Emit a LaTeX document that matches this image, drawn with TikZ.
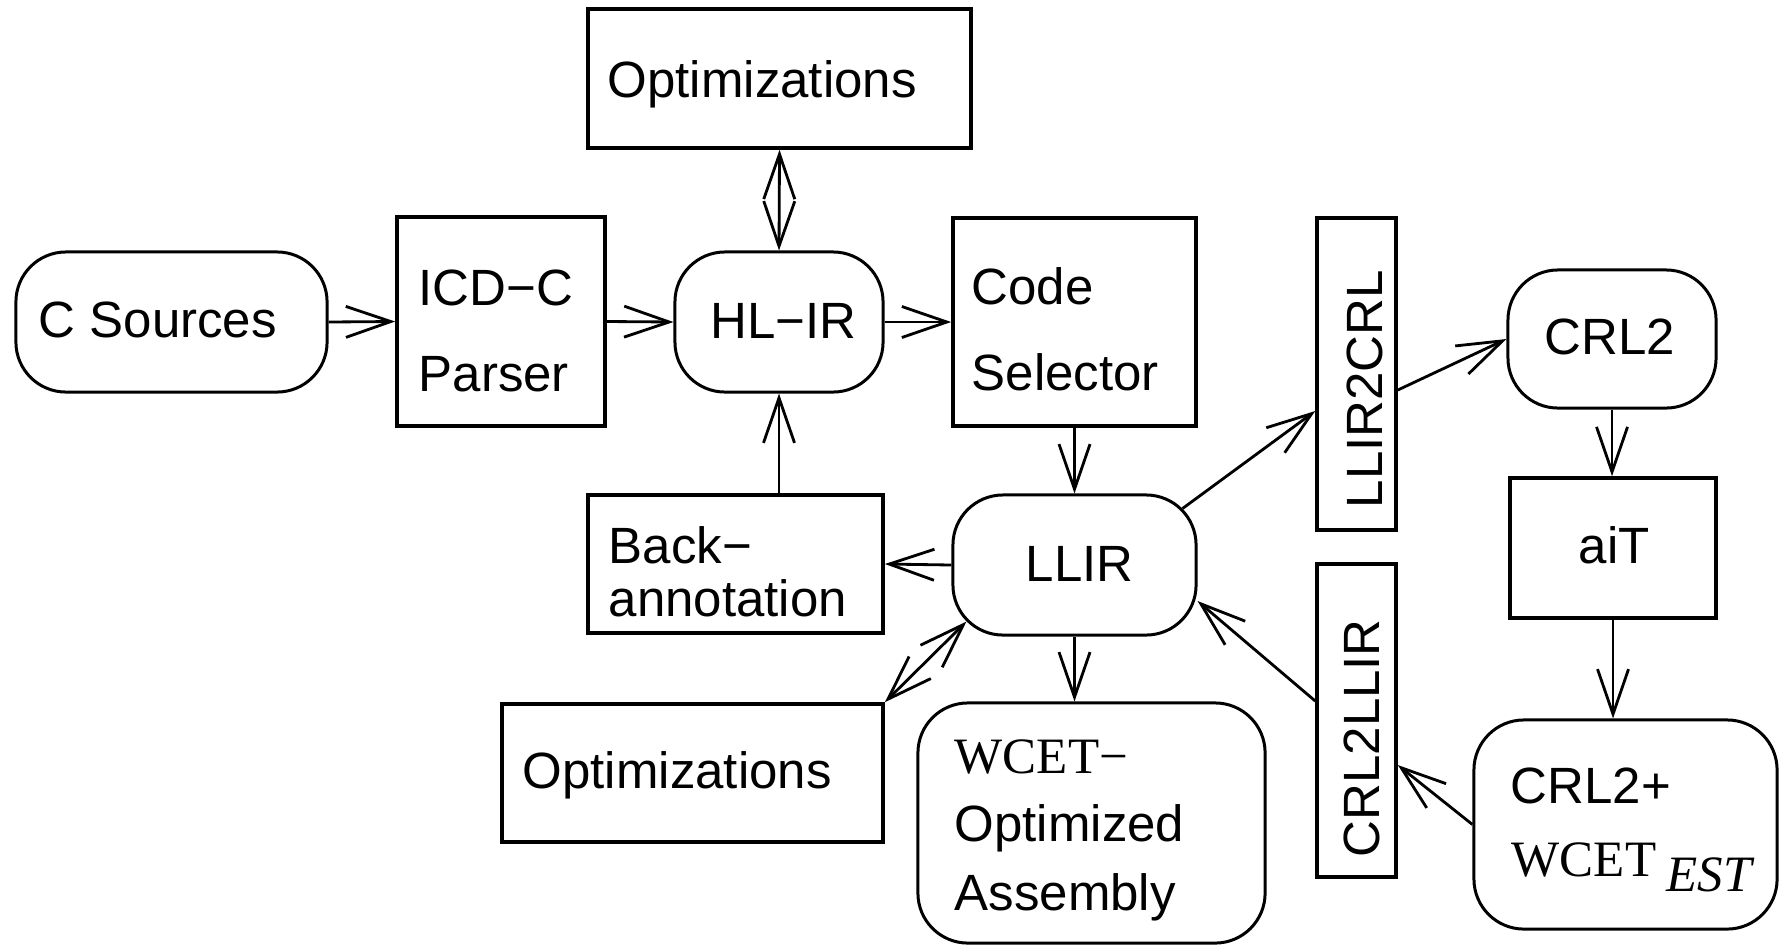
\documentclass[tikz,border=0pt]{standalone}
\usepackage{fontspec}
\setmainfont{Liberation Sans}
\newfontfamily\timesfont{Liberation Serif}
\usetikzlibrary{arrows.meta}

\begin{document}
\begin{tikzpicture}[
  x=0.01cm, y=-0.01cm,
  box/.style={draw, line width=1pt, rectangle, inner sep=0pt},
  rbox/.style={draw, line width=0.85pt, rectangle, rounded corners=0.5cm, inner sep=0pt},
  lbl/.style={inner sep=0pt, anchor=base west, font=\fontsize{14.5}{17}\selectfont},
  serif/.style={font=\fontsize{14.5}{17}\selectfont\timesfont},
  barb/.tip={Straight Barb[length=0.45cm, width=0.31cm, line width=0.8pt]},
  arr/.style={line width=0.8pt, -barb},
  biarr/.style={line width=0.8pt, barb-barb},
]
\useasboundingbox (0,0) rectangle (1780,945);

% ---- boxes ----
\node[box,  minimum width=3.83cm, minimum height=1.39cm] (opt1)  at (779.5,78.5) {};
\node[rbox, minimum width=3.11cm, minimum height=1.40cm] (csrc)  at (171.5,322) {};
\node[box,  minimum width=2.08cm, minimum height=2.09cm] (icd)   at (501,321.5) {};
\node[rbox, minimum width=2.08cm, minimum height=1.40cm] (hlir)  at (779,322) {};
\node[box,  minimum width=2.43cm, minimum height=2.08cm] (code)  at (1074.5,322) {};
\node[box,  minimum width=2.95cm, minimum height=1.38cm] (back)  at (735.5,564) {};
\node[rbox, minimum width=2.43cm, minimum height=1.40cm] (llir)  at (1074.5,565) {};
\node[box,  minimum width=3.81cm, minimum height=1.38cm] (opt2)  at (692.5,773) {};
\node[rbox, minimum width=3.47cm, minimum height=2.40cm] (wcet)  at (1091.5,823) {};
\node[box,  minimum width=0.79cm, minimum height=3.12cm] (l2c)   at (1356.5,374) {};
\node[box,  minimum width=0.79cm, minimum height=3.13cm] (c2l)   at (1356.5,720.5) {};
\node[rbox, minimum width=2.08cm, minimum height=1.38cm] (crl2)  at (1612,339) {};
\node[box,  minimum width=2.06cm, minimum height=1.40cm] (ait)   at (1613,548) {};
\node[rbox, minimum width=3.03cm, minimum height=2.09cm] (crlw)  at (1625.5,824.5) {};

% ---- labels ----
\node[lbl] (opt1t)  at (607,97)   {Optimizations};
\node[lbl] (csrct)  at (38,337)   {C Sources};
\node[lbl] (icdt1)  at (418,305)  {ICD−C};
\node[lbl] (icdt2)  at (418,391)  {Parser};
\node[lbl] (hlirt)  at (710,338)  {HL−IR};
\node[lbl] (codet1) at (971,304)  {Code};
\node[lbl] (codet2) at (971,390)  {Selector};
\node[lbl] (backt1) at (608,563)  {Back−};
\node[lbl] (backt2) at (608,616)  {annotation};
\node[lbl] (llirt)  at (1025,581) {LLIR};
\node[lbl] (opt2t)  at (522,788)  {Optimizations};
\node[lbl, serif] (wcett1) at (954,773) {WCET−};
\node[lbl] (wcett2) at (954,841)  {Optimized};
\node[lbl] (wcett3) at (954,910)  {Assembly};
\node[lbl, rotate=90] (l2ct) at (1382,509) {LLIR2CRL};
\node[lbl, rotate=90] (c2lt) at (1379,858) {CRL2LLIR};
\node[lbl] (crl2t)  at (1544,354) {CRL2};
\node[lbl] (aitt)   at (1578,563) {aiT};
\node[lbl] (crlwt1) at (1510,803) {CRL2+};
\node[lbl, serif] (crlwt2) at (1511,876) {WCET};
\node[lbl, serif] (crlwt3) at (1666,891) {\itshape EST};

% ---- points on rounded corners of LLIR ----
\path (llir.south west) ++(15,-15) coordinate (llirsw);
\path (llir.north east) ++(-15,15) coordinate (llirne);

% ---- connectors ----
\draw[arr] (csrc.east) -- (icd.west);
\draw[arr] (icd.east) -- (hlir.west);
\draw[arr] (hlir.east) -- (code.west);
\draw[biarr] (opt1.south) -- (hlir.north);
\draw[arr] (back.north -| hlir.south) -- (hlir.south);
\draw[arr] (code.south) -- (llir.north);
\draw[arr] (llir.west) -- (back.east);
\draw[biarr] (opt2.north east) -- (llirsw);
\draw[arr] (llir.south) -- (llir.south |- wcet.north);
\draw[arr] (llirne) -- ([yshift=-0.37cm]l2c.west);
\draw[arr] ([yshift=-0.16cm]l2c.east) -- (crl2.west);
\draw[arr] (crl2.south) -- (crl2.south |- ait.north);
\draw[arr] (ait.south) -- (ait.south |- crlw.north);
\draw[arr] (crlw.west) -- ([yshift=-0.445cm]c2l.east);
\draw[arr] ([yshift=0.195cm]c2l.west) -- ([yshift=-0.36cm]llir.east);
\end{tikzpicture}
\end{document}
